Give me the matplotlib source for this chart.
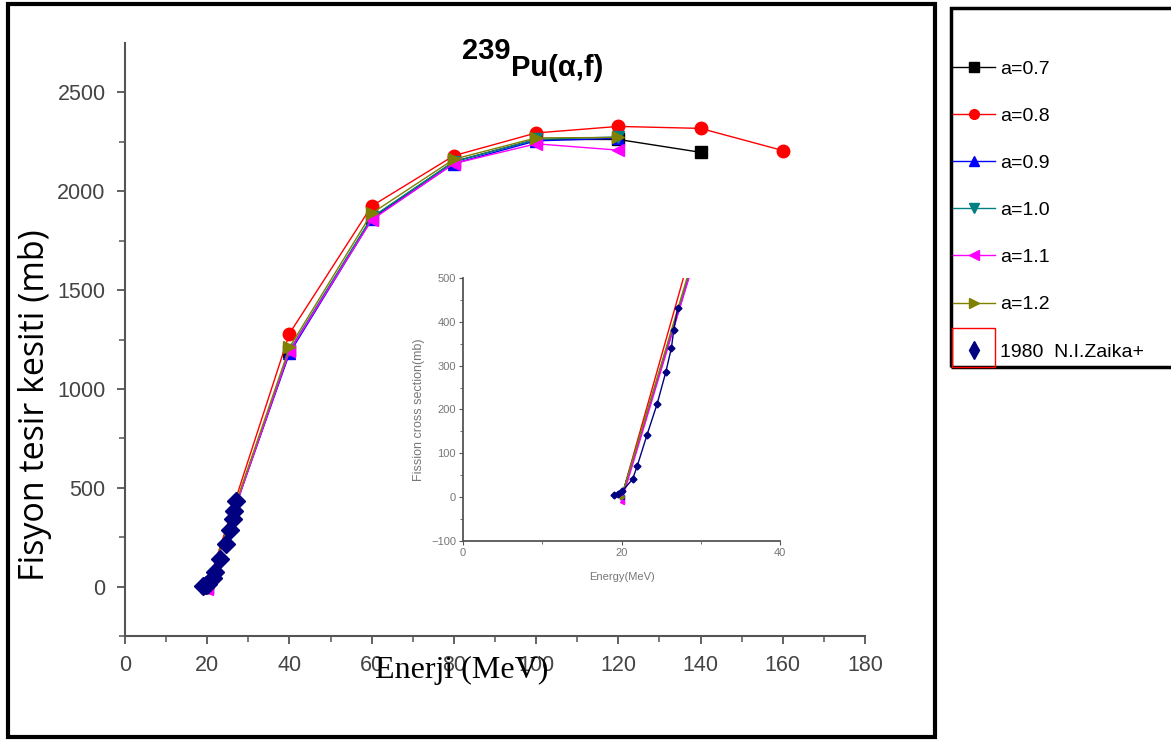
import matplotlib
matplotlib.use('Agg')
import matplotlib.pyplot as plt
from matplotlib.lines import Line2D
from matplotlib.patches import Rectangle

# alpha energies (MeV) for the model curves
energies = [20, 40, 60, 80, 100, 120, 140, 160]

# fission cross section (mb) for each level density parameter a
xs_a07 = [0, 1190, 1865, 2150, 2262, 2262, 2197]
xs_a08 = [0, 1280, 1925, 2180, 2295, 2328, 2318, 2206]
xs_a09 = [0, 1180, 1858, 2140, 2255, 2268]
xs_a10 = [0, 1195, 1868, 2150, 2262, 2275]
xs_a11 = [-10, 1190, 1855, 2140, 2240, 2208]
xs_a12 = [0, 1210, 1888, 2162, 2270, 2272]

# experimental data, 1980 N.I.Zaika+
exp_e = [19.0, 19.6, 20.1, 21.4, 22.0, 23.2, 24.5, 25.6, 26.3, 26.6, 27.1]
exp_xs = [5, 8, 14, 41, 72, 141, 213, 286, 341, 382, 432]

series = [
    ('a=0.7', xs_a07, 'black', 's'),
    ('a=0.8', xs_a08, 'red', 'o'),
    ('a=0.9', xs_a09, 'blue', '^'),
    ('a=1.0', xs_a10, '#008080', 'v'),
    ('a=1.1', xs_a11, 'magenta', '<'),
    ('a=1.2', xs_a12, '#808000', '>'),
]
exp_label = '1980  N.I.Zaika+'
exp_color = '#000080'

W, H = 1171, 740
fig = plt.figure(figsize=(W / 100, H / 100), dpi=100)
plt.rcParams['font.family'] = ['Liberation Sans', 'DejaVu Sans']


def fx(px):
    return px / W


def fy(py):
    return 1 - py / H


gray = '#555555'

# main axes
ax = fig.add_axes([fx(125), fy(636), fx(865) - fx(125), fy(43) - fy(636)])
for label, ys, color, mk in series:
    ax.plot(energies[:len(ys)], ys, color=color, lw=1.0, marker=mk,
            markersize=9, label=label)
ax.plot(exp_e, exp_xs, ls='none', marker='D', color=exp_color,
        markersize=9, label=exp_label)

ax.set_xlim(0, 180)
ax.set_ylim(-250, 2750)
ax.set_xticks(range(0, 181, 20))
ax.set_xticks(range(10, 180, 20), minor=True)
ax.set_yticks(range(0, 2501, 500))
ax.set_yticks(range(-250, 2750, 500), minor=True)
for s in ['top', 'right']:
    ax.spines[s].set_visible(False)
for s in ['left', 'bottom']:
    ax.spines[s].set_color(gray)
    ax.spines[s].set_linewidth(1.5)
ax.tick_params(which='major', length=6, width=1.3, color=gray,
               labelsize=15.5, labelcolor='#444444', pad=8)
ax.tick_params(which='minor', length=4, width=1.1, color=gray)

# title
fig.text(fx(462), fy(59), '239', fontsize=21, fontweight='bold',
         ha='left', va='baseline')
fig.text(fx(511), fy(76), 'Pu(α,f)', fontsize=21, fontweight='bold',
         ha='left', va='baseline')

# axis labels
fig.text(fx(462), fy(670), 'Enerji (MeV)', fontsize=23,
         family=['Liberation Serif'], ha='center', va='center')
fig.text(fx(35), fy(405), 'Fisyon tesir kesiti (mb)', fontsize=24.5,
         family=['Open Sans', 'DejaVu Sans'], rotation=90,
         ha='center', va='center')

# inset
ins = fig.add_axes([fx(463), fy(541), fx(780) - fx(463), fy(278) - fy(541)])
for label, ys, color, mk in series:
    ins.plot(energies[:len(ys)], ys, color=color, lw=1.0, marker=mk,
             markersize=3)
ins.plot(exp_e, exp_xs, color=exp_color, lw=1.0, marker='D', markersize=3.5)
ins.set_xlim(0, 40)
ins.set_ylim(-100, 500)
ins.set_xticks([0, 20, 40])
ins.set_xticks([10, 30], minor=True)
ins.set_yticks(range(-100, 501, 100))
ins.set_yticks(range(-50, 500, 100), minor=True)
for s in ['top', 'right']:
    ins.spines[s].set_visible(False)
ic = '#777777'
for s in ['left', 'bottom']:
    ins.spines[s].set_color('#555555')
    ins.spines[s].set_linewidth(1.3)
ins.tick_params(which='major', length=3, width=0.8, color='#555555',
                labelsize=8, labelcolor=ic, pad=2)
ins.tick_params(which='minor', length=2, width=0.6, color='#555555')
ins.set_xlabel('Energy(MeV)', fontsize=8, color=ic, labelpad=10)
ins.set_ylabel('Fission cross section(mb)', fontsize=9, color=ic,
               labelpad=4)

# legend (small proxy markers as in the reference)
proxies = [Line2D([], [], color=c, lw=1.0, marker=m, markersize=7)
           for _, _, c, m in series]
proxies.append(Line2D([], [], ls='none', marker='d', color=exp_color,
                      markersize=9))
labels = [s[0] for s in series] + [exp_label]
leg = fig.legend(handles=proxies, labels=labels, loc='upper left',
                 bbox_to_anchor=(fx(953), fy(60)), frameon=False,
                 prop={'size': 14},
                 handlelength=2.15, handletextpad=0.25, labelspacing=1.52,
                 borderpad=0, borderaxespad=0)
fig.patches.append(Rectangle((fx(951), fy(367)), fx(1175) - fx(951),
                             fy(8) - fy(367), transform=fig.transFigure,
                             fill=False, edgecolor='black', lw=2.5))
fig.patches.append(Rectangle((fx(952), fy(367)), fx(995) - fx(952),
                             fy(328) - fy(367), transform=fig.transFigure,
                             fill=False, edgecolor='red', lw=1.0))

# outer frame
fig.patches.append(Rectangle((fx(8), fy(737)), fx(935) - fx(8),
                             fy(4) - fy(737), transform=fig.transFigure,
                             fill=False, edgecolor='black', lw=3))

fig.savefig('out.png', dpi=100)
